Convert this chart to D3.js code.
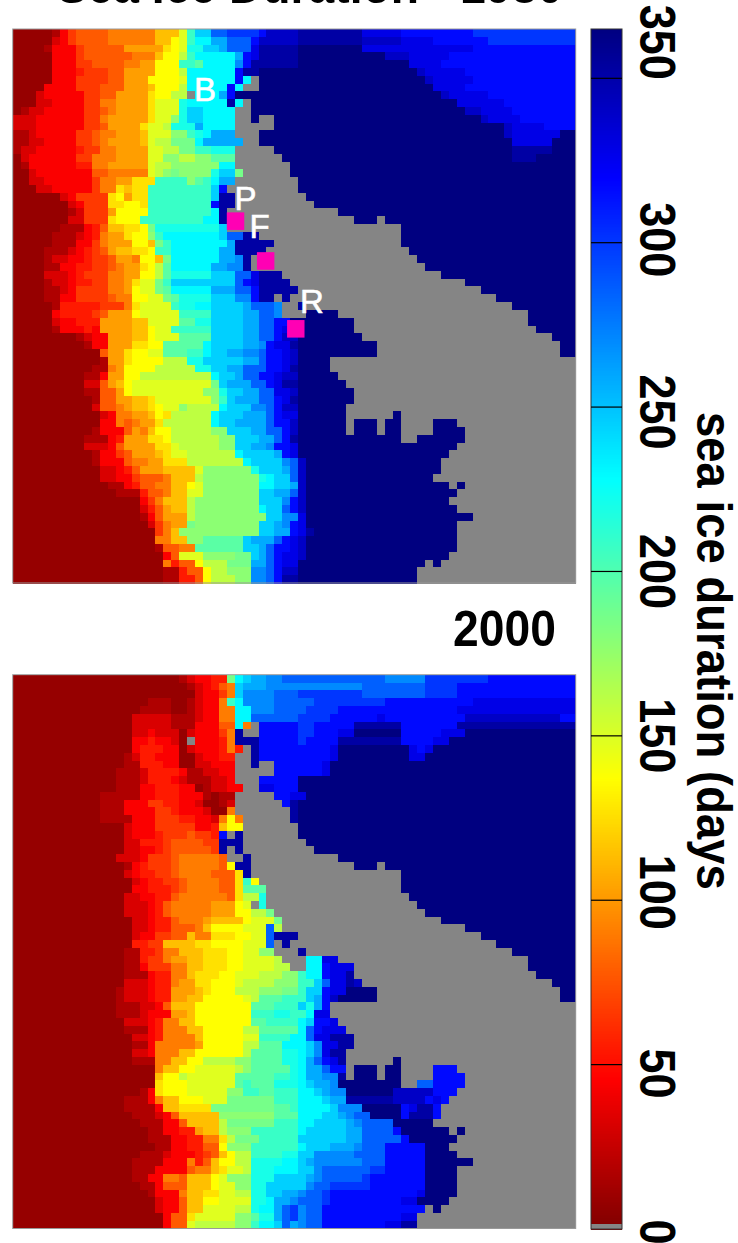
<!DOCTYPE html>
<html><head><meta charset="utf-8">
<style>html,body{margin:0;padding:0;background:#fff}svg{display:block}text{font-family:"Liberation Sans",Arial,sans-serif}</style>
<script src="https://cdn.jsdelivr.net/npm/d3@7/dist/d3.min.js"></script>
</head><body><div id="c"></div>
<script>
// Day value of each code used in the row strings; G = land (no data)
const codeDays = {a:8,b:17,c:32,d:44,e:55,f:66,g:78,h:90,i:102,j:114,k:126,l:137,m:148,n:160,o:178,p:186,q:196,r:208,s:220,t:230,u:245,v:258,w:270,x:285,y:300,z:316,A:328,B:340,C:352,D:365};
// Each row: code + column where that run ends
const rows1980 = [
"a5b6d7f8g12h18j21m22r23u25x27y31z32B36C44A49z58y71",
"a5c6d7f8g12h18j20l21m22r23t25v27x30z31B36C44B49A53z60y71",
"a4b5d8f9g14i19k20l21m22s24u26v27x30A31C36D44A58z71",
"a5d8f9g15h18j19l21n22r23t28v29z30A31C36D47B50A55z71",
"a5d8f10g14h16i18l21r23q24t28w29z30C36D50A54z71",
"a5d8e9f12g14i18l21n22t28z29C31D51B52A57z71",
"a5d8f12g14i17l21m22t28z29t30G31D52B53A58z71",
"a4d8f11g14i17j18l21n22t27z28t29G31D53A57z71",
"a3c4d9f11g13i17k18l20n22G23t26v27z28D54B55A60z71",
"a3c5d9f11h13i17k18m21s22t27C28t29G30D56A62z71",
"a1b2c4d9f11g12h13i17k18m21s22u24t28G30D57B59A63z71",
"c3d9f11h12i17k18m20o21s22u24t28G30D31G33D59B60A64z71",
"c3d9f11g12i16k17m19n20s23v24t28G33D62B63A67z71",
"b2c3d8f10g11h13i16j17m20o22r23s24t25v28G31D62B63A69D71",
"b2c4d8f10g11h12i16j17m18n20p23t24v29G31D63A68D71",
"b1c3d8e9f11h13i17m19n21p23r25s28G33D63C68D71",
"a1c2d8f10h13i17m19o21n23o25q28G34D63C66D71",
"a1b2d8e10h12i17m18n20o26t28G35D71",
"a2c3d10g12h17m18n19o20p21o25s26u28p29G35D71",
"a2c4d10f11h13i15k18r22o23q24r25t26v28G36D71",
"a3c5d10f11h13k14j15k17r25u26z27G36D71",
"a6c7d8f12k13l14i15k17r25u26C28G37D71",
"a7c8d9f12k14l16k17r25z26C28G38D71",
"a7b8c9f12i13l17r25t26C27G41D71",
"a7c9f12k13l16r24t26C27G43D46G47D71",
"a6b9d10e11g12j14k16l17p18s26u27G49D71",
"a5b8c9d10e11h12i14k15l17o18r19t26u27x29C31G49D71",
"a5b8d10f11h12i15l17j18p19r20t27v28C33G49D71",
"a4b7c8d9e10f11g12i13j15k17l18r20t26v28C32G50D71",
"a4b5c7d9e10f12g13i15h16l18j19p20t26v28w29C30G51D71",
"a4b6d8e10f12g13h14i16k17l18n19q20t25v27w29C30G52D71",
"a4c7d8e9f12h14i16l18n19q20s25u28x30A31C34G54D71",
"a4b5c7d8e10f12h14i15k16m18p19r20u28x29z30A31C35G57D71",
"a4b6c7d8f12h14i15l16m18p19q20t25v28x30z31C36G59D71",
"a4b6d8f12g13h15l17m19p20q21s25u28w30z31C33G34C35G61D71",
"a5b6e11f14h15k16m20r21s23t25u29v30x33w34G36C37G63D71",
"a5d6e10f11g12i15l16m21r25u29v31x33w34G37D41G65D71",
"a5c6d8e11i15j17m21q23s25u29v31x33z35D43G65D71",
"a5b6d9e10d11i15j17l18m20r25u29v31x33z34A35D43G66D71",
"a8b9c10d12i15j17l18m21q25u29v31x33z34B36D44G68D71",
"a9b10d12i15k17l19q24t25u29v31w32z33A35C36D46G69D71",
"a11g12i14k15l17m19q22r24t25u27v29w31x32z34A35B36D46G69D71",
"a11b12i14k15l19n22s24u29v31x32z34A35B36D40G71",
"a10b12h13i14l18n23s25u27v29x32z34A35C36D40G71",
"a9b11d12i14l16n25t26u28v29x31z33A34B36D41G71",
"a9c11g12i13j14l15m25p26u27v30x32z33A34C36D42G71",
"a9b11g13i14l15m24o26s27u29v31x33A35B36D43G71",
"a10b11g13i15j17k18m25o26r27u28v31x33z34A35C36D43G71",
"a10c11g13h14i15j17k18l19m21o22n26t27u30w32x33z34B36D42G71",
"a11c12d13h15i17j18l19k20n25t26u29v32x33z34A36D42G48D49G71",
"a11d13h14g15h16i18k19n25t26u28v32x33z35B36D42G43D46G47D49G53D56G71",
"a10b11d14g15i16h17j18l20n25o27u30v32x34z35B36D42G43D46G47D49G53D57G71",
"a9b12d13e14i17k19l20n26o28u31v33x34z35C36D49G51D57G71",
"a9c12d13g14i18k20m21n26o28u30v32w33z35A36D56G71",
"a10b11d13f14g15i18j19k20m22n28t29u33v34z35A36D55G71",
"a10b11d14g15h17i19k22n29t30u34w35x36B37D54G71",
"a11c13d14e15g16i19j23m24o30s31u34v35x36B37D54G71",
"a11c13d15f16g19h20j23n24o31s32t33u35x36B37D53G71",
"a12b14d15e16g18h20j22l23m24o31t33u35v36B37D55G56D57G71",
"a13b16e17g19h20j22m24o31u33v35x36B37D56G71",
"a16d17f18h19j22n23o31u34w35z36B37D55G71",
"a16c17e18g19i20j22n23o31t32u34x35z36B37D56G71",
"a16b17d18g19i22n23o32u34w36A37D58G71",
"a17c18f19h20i22p23o31u33v34w35z36A37D56G71",
"a18f19h20j21o31u33v35z36A37C38D56G71",
"a18h20j22o24q29u30v33x34z35A36B37D56G71",
"a18b19g21h23q29u31v32x33z35A36B37D56G71",
"a19d20g21m24o28p30u31v32x33z34A36B37D55G71",
"a19h20e21g23l24n27p30v32x33z34A36D52G53D54G71",
"a19b21e22g24l25n27o30w32x33z34B36D51G71",
"a19b21e23g24l25n28o30w32x33z34C36D51G71"];
const rows2000 = [
"a21b22c23d25e27p28t29u30v32w34x47w52y60z71",
"a22b23c24d25e26g27h28u29v32w44x52y56z71",
"a23c24d26f27h28u29w33x36y44x52y56z71",
"a17b20a22b23c24d26h27r28t29w33x38y47z58A71",
"a16b20a22b23c24d26h28t30w33x37y41z56A71",
"a15c20b23c24d26h28t30x36y40z46A47z57B69z71",
"a15c20b23d26g28t29h30G31z36y38z43C49z56C71",
"a15c17d18c21a22c23d26f27h28C29G31z36y38z41A43D49z54A57D71",
"a15d17e18d20c21a22G23d26e27h28C31z36y37z41C49z53A55D71",
"a15d16e19d21a22c23d26e27h28e29G30C31z40A41D50A51z52A53D71",
"a14b15c16e18d21a23c24d26e28G30C31z40A41D50A52D71",
"a14b16e19d21a23c25d28G30C31G33z39A40D71",
"a13b16c17e21d22b24c26d28G33z39A40D71",
"a13b16c17e20d21c22b25c27d28G31z36D71",
"a13b16d18e21d23a24b25c27d29G31A33z36D71",
"a11b16d18e21d24b25a26b28G33z35A37D71",
"a11b14d17f19e21d23c24a26b27c28G34z35C36D71",
"a11b14d18f20e21d24c25a27h28G35C36D71",
"a11b15d18f21e23d25c26h27l28h29G35C36D71",
"a14c15d18f23d25e26j27l29G36D71",
"a14c15d18e19f22g23f25e26z27G28C29G36D71",
"a14c16e19f20g24f26C29G37D71",
"a14c16d18e19f20g25f26C27G28C29G38D71",
"a13c16d17f20g21h26g27G29C30G41D71",
"a14b15d16e17f20g21h26g27l28C30G43D46G47D71",
"a14c15d16e18f20g21h25g28k29C30G49D71",
"a15c16d17e19f21g22h26g28k29r30l31G49D71",
"a15d17e20f21g22h26g28k29q32G49D71",
"a14c16d18e20g21h27g28k29n31s32G50D71",
"a14c17d18e19g20h25i28l29m30G31s32G51D71",
"a14c17d18e19g20h25i28l30n32p33G52D71",
"a15c17d18e20g21h24i25j29l30m33p34G54D71",
"a15c17d18e20g23h24j25l29m32x33n34G57D71",
"a15c16d18f20g22j23h25k28l30m32x33C36G59D71",
"a15e17f19j23k25l29m32x33G34C35G61D71",
"a14b16e18f19h21j24k27l29m31o33G36C37G63D71",
"a14b16e17f19h20i22j24k27l29m33n34G37t39A41G65D71",
"a14b16d17f20h22j24k27l29m33n35G37t39z40A43G65D71",
"a14b17d18e20h22j23k26l28m31n34o36r37t39z40A42C43G66D71",
"a14c17d18e20h21i23k25l28m29n33o36r38u39x40A42C43B44G68D71",
"a13b14c17d18e20i23j24k25l28n31o34p36r37u39z40A42D46G69D71",
"a13b14c17d18e20i22j24l29m30n31q34r37u38v39z40B41D46G69D71",
"a13b16c18d19g20j23l30q33r36u37s38v39z40G71",
"a13b16c17d20i22j23l30r33s35r37t38A40G71",
"a14c17d18e19h21j23l30q32r36t37u38z40A41G71",
"a14b17d18e19h22j24l29n31q36t37x38z39A42G71",
"a15c17d18e19h23j24l29m31r35t37x38A40C43G71",
"a15b17d18h23i24l29n31q34t37u38w39A41C43G71",
"a15c17d18h21j23l29n30q34s36t37u38w39A40C42G71",
"a15b18h20j22l24n28o30q34s36t37v38x39z40A41C42G48D49G71",
"a18h19j21l23m28n29o30q35s36t37v39x40z42G43D46G47D49G53z56G71",
"a18j19l21n22m28q33r35s36t37v39w41C42G43D46G47D49G53z57G71",
"a18k19l22m28q29r30q33s36t37u38v40w41D49G51x53z57G71",
"a16b17d18k19l22m27o29r31q33r36t38u39v40w42D48B53z56G71",
"a14b17d18h19j21l24m27p33r36t39u40v42C48B52z53A54z55G71",
"a14b18d19j21k25p33q35r36t40u41w44D49z50A51C53z54G71",
"a15b18c19d20g21j26o33q36t39u41v42w43x45D49z50C53z54G71",
"a16b19d21g22j26n27p33r36t38u42v43w44x48D53G71",
"a17b19d21e23i24j26n27o30r36t37u42v44x48z49D55G56D57G71",
"a17b20d22e24h26k27n28p31r36u42v44x49z50D56G71",
"a18b20d22e24g26l27o30r36t37u40v43w44x47z52D55G71",
"a16b19c20d23e24f25g26j27l28n30r34s36u38w43x47z52D56G71",
"a15b19d22h23e24g25j26l28n30s34t36u37v38w44x47z52D58G71",
"a15b18d22g23h25j26k27m29n30s33t36u38w39x45y47z52D56G71",
"a15b17d19h21g22j25l26m27o30s33u37v38w39x44y45z52D56G71",
"a16b18d19g22j25l26m28o30s32u37w38x40y45z52D56G71",
"a17b18d21h22j24k26m28n30s32u34v36w37x39y40z51A52D56G71",
"a18c19d21g22j24l26m30s32t33v35w36x39y40z49A51D55G71",
"a18c19d21g22j24m28n30s31t33v34x35y36w37x39z52G53D54G71",
"a19d20g22k23m28o30q31s33v34x35y36w37x39z49A51G71",
"a19d20g22m23n28o30r31t33u34x35v36w37x39z47A49C51G71"];

const jetDays = [0,45.6,136.9,228.1,319.4,365];
const jetColors = ["#800000","#ff0000","#ffff00","#00ffff","#0000ff","#000080"];
const colorTicks = [0,50,100,150,200,250,300,350];
const siteNames = ["B","P","F","R"];
const siteCol = [null,27,30.8,34.6];   // grid position of the marked sites
const siteRow = [null,23.5,28.6,37.3];
const titleTop = "Sea Ice Duration - 1980";
const titleBottom = "2000";
const axisTitle = "sea ice duration (days";

const W=738,H=1243, nCols=71, nRows=71, LAND="#858585";
const color=d3.scaleLinear().domain(jetDays).range(jetColors);
const svg=d3.select("#c").append("svg").attr("width",W).attr("height",H);

function parseRow(s){
  const out=[];let start=0;
  for(const m of s.matchAll(/([a-zA-Z])(\d+)/g)){
    const end=+m[2];
    for(let c=start;c<end;c++) out.push(m[1]);
    start=end;
  }
  return out;
}
const xS=d3.scaleLinear().domain([0,nCols]).range([12.7,575.7]);
function panel(rows,y0,y1){
  const yS=d3.scaleLinear().domain([0,nRows]).range([y0,y1]);
  const g=svg.append("g");
  const cells=rows.flatMap((s,r)=>parseRow(s).map((k,c)=>({r,c,k})));
  g.selectAll("rect").data(cells).join("rect")
   .attr("shape-rendering","crispEdges")
   .attr("x",d=>xS(d.c)).attr("y",d=>yS(d.r))
   .attr("width",d=>xS(d.c+1)-xS(d.c)+.6).attr("height",d=>yS(d.r+1)-yS(d.r)+.6)
   .attr("fill",d=>d.k==="G"?LAND:color(codeDays[d.k]));
  g.append("rect").attr("x",12.7).attr("y",y0).attr("width",563).attr("height",y1-y0)
   .attr("fill","none").attr("stroke","#999").attr("stroke-width",1);
  return yS;
}
const yTop=panel(rows1980,29,583);
panel(rows2000,674.7,1228.5);

// site markers and labels
siteCol.forEach((c,i)=>{
  if(c===null) return;
  const r=siteRow[i];
  svg.append("rect").attr("x",xS(c)).attr("y",yTop(r))
   .attr("width",xS(c+2.2)-xS(c)).attr("height",yTop(r+2.25)-yTop(r)).attr("fill","#ff00b4");
});
const labelAt={B:[205,101],P:[245.5,210],F:[259.5,238],R:[312,313]};
siteNames.forEach(n=>{
  svg.append("text").attr("x",labelAt[n][0]).attr("y",labelAt[n][1]).attr("text-anchor","middle")
   .attr("font-size",33).attr("fill","#fff").attr("stroke","#fff").attr("stroke-width",.6).text(n);
});

// titles
function bold(t,x,y,anchor,sx){
  return svg.append("text").attr("transform",`translate(${x},${y}) scale(${sx},1)`)
    .attr("text-anchor",anchor).attr("font-size",50).attr("font-weight","bold").attr("fill","#000").text(t);
}
bold(titleTop,563,3,"end",.925);
bold(titleBottom,556,646,"end",.925);

// colour bar
const cb=d3.scaleLinear().domain([0,365]).range([1229,29]);
const bar=svg.append("g");
bar.selectAll("rect").data(d3.range(0,365,0.5)).join("rect")
  .attr("shape-rendering","crispEdges")
  .attr("x",591).attr("width",31).attr("y",d=>cb(d+0.5)).attr("height",2.2)
  .attr("fill",d=>color(d));
bar.append("rect").attr("x",591).attr("y",1224).attr("width",31).attr("height",5).attr("fill",LAND);
bar.append("rect").attr("x",591).attr("y",29).attr("width",31).attr("height",1200)
  .attr("fill","none").attr("stroke","#333").attr("stroke-width",1);
bar.selectAll("line").data(colorTicks.slice(1)).join("line")
  .attr("x1",591).attr("x2",622).attr("y1",d=>cb(d)).attr("y2",d=>cb(d))
  .attr("stroke","#000").attr("stroke-width",1.2);
const nudge={0:3,50:9,100:-8,150:0,200:0,250:5,300:-3,350:-36};
colorTicks.forEach(v=>{
  svg.append("text").attr("transform",`translate(640,${cb(v)+nudge[v]}) rotate(90) scale(.9,1)`)
   .attr("text-anchor","middle").attr("font-size",50).attr("font-weight","bold").text(v);
});
svg.append("text").attr("transform",`translate(697,412) rotate(90) scale(.91,1)`)
   .attr("font-size",50).attr("font-weight","bold").text(axisTitle);
</script></body></html>
